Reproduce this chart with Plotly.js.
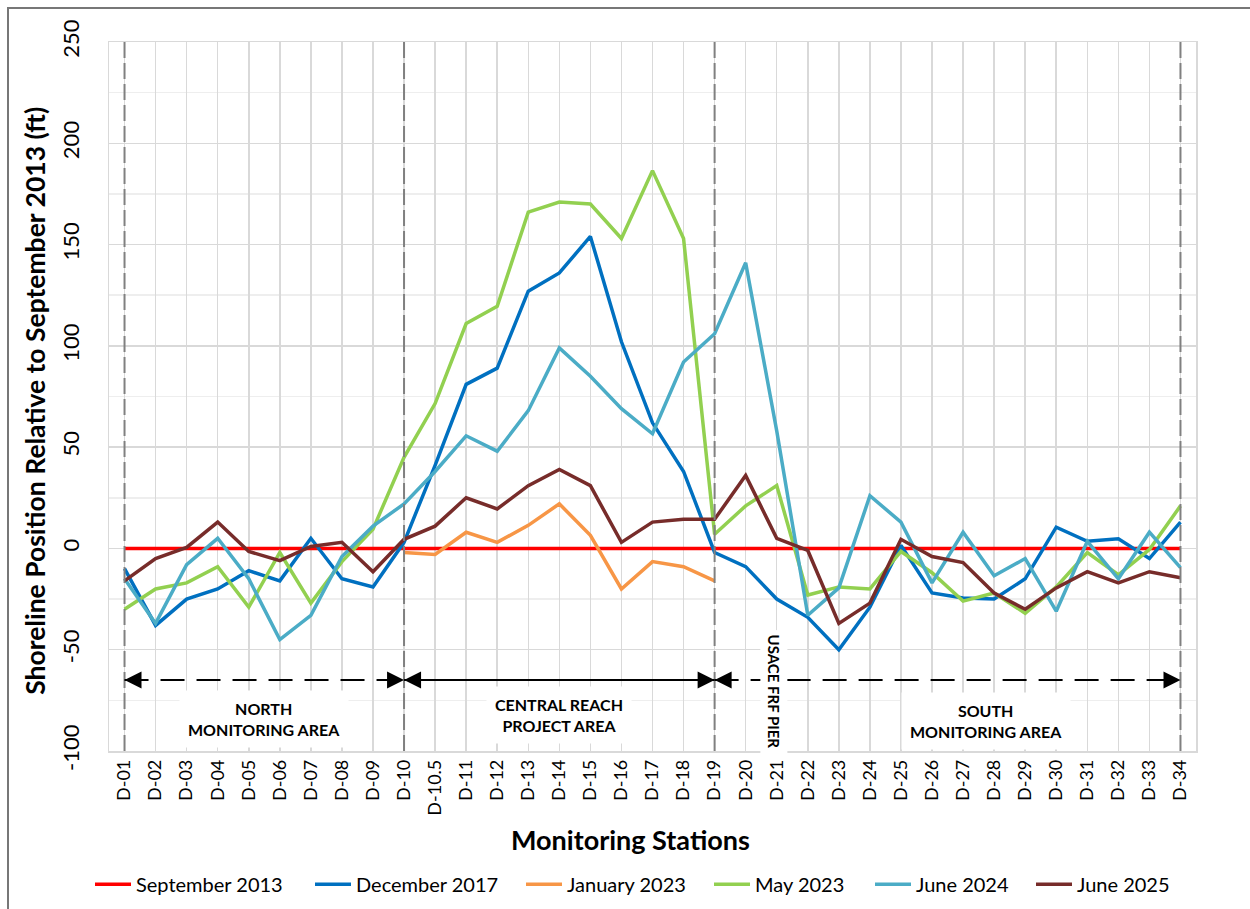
<!DOCTYPE html>
<html>
<head>
<meta charset="utf-8">
<script src="https://cdn.plot.ly/plotly-3.0.1.min.js"></script>
<style>
  body { margin: 0; background: #fff; }
  #chart { position: absolute; left: 0; top: 0; width: 1250px; height: 909px; }
  #frame { position: absolute; left: 7px; top: 7px; width: 1260px; height: 920px;
           border-left: 2px solid #777; border-top: 2px solid #777; pointer-events: none; }
</style>
</head>
<body>
<div id="chart"></div>
<div id="frame"></div>
<script>
const stations = ["D-01","D-02","D-03","D-04","D-05","D-06","D-07","D-08","D-09","D-10","D-10.5",
  "D-11","D-12","D-13","D-14","D-15","D-16","D-17","D-18","D-19","D-20","D-21","D-22","D-23",
  "D-24","D-25","D-26","D-27","D-28","D-29","D-30","D-31","D-32","D-33","D-34"];

const sep2013 = [0,0,0,0,0,0,0,0,0,0,0,0,0,0,0,0,0,0,0,0,0,0,0,0,0,0,0,0,0,0,0,0,0,0,0];

const dec2017 = [-10,-38,-25,-20,-11,-16,5,-15,-19,3,41,81,89,127,136,154,102,62,38,-2,
  -9,-25,-34,-50,-29,1.5,-22,-24.5,-25,-15,10.5,3.5,4.8,-5,13];

const janStations = ["D-10","D-10.5","D-11","D-12","D-13","D-14","D-15","D-16","D-17","D-18","D-19"];
const jan2023 = [-2,-3,8,3,11.4,22,6.5,-20,-6.5,-9,-16];

const may2023 = [-30,-20,-17,-9,-29,-2,-27,-6.5,9.5,45,71.5,111,119.5,166,171,170,153,186.5,153,7,
  21,31,-23,-19,-20,-1.5,-12,-26,-22,-32,-19,-2,-13,-0.5,21];

const jun2024 = [-15,-37,-8,5,-15,-45,-33,-4,11,22,38,55.6,48,68,99,85,69,56.6,92,106,
  141,58,-33,-19.5,26,13,-17,8,-13.5,-5,-31,3.5,-15,8,-9.5];

const jun2025 = [-16,-5,0.5,13,-1.5,-6,1,3,-11.5,4.5,11,25,19.5,31,39,31,3,13,14.4,14.4,
  36,5,-1,-37,-27,4.5,-4,-7,-22,-30,-19.5,-11.5,-17,-11.5,-14.5];

const seriesNames = ["September 2013","December 2017","January 2023","May 2023","June 2024","June 2025"];
const seriesColors = ["#FF0000","#0070C0","#F79646","#92D050","#4BACC6","#772C2A"];

const yTicks = [-100,-50,0,50,100,150,200,250];
const yTickLabels = ["-100","-50","0","50","100","150","200","250"];
const dividerStations = ["D-01","D-10","D-19","D-34"];

const xs = [stations, stations, janStations, stations, stations, stations];
const ys = [sep2013, dec2017, jan2023, may2023, jun2024, jun2025];

// pixel positions of legend entries (left edge of the line sample)
const legendLeftPx = [98, 318, 529, 717, 878, 1039];
const plotL = 109, plotW = 1087;
const legendKeys = ["legend","legend2","legend3","legend4","legend5","legend6"];

const traces = seriesNames.map((n, i) => ({
  type: "scatter", mode: "lines", name: n, x: xs[i], y: ys[i],
  line: { color: seriesColors[i], width: 3.5 }, legend: legendKeys[i]
}));

const arrowY = -65;
const shapes = [];
dividerStations.forEach(s => shapes.push({
  type: "line", xref: "x", yref: "y", x0: s, x1: s, y0: -100, y1: 250,
  line: { color: "#808080", width: 2, dash: "16px,5px" }, layer: "above"
}));
shapes.push({ type: "line", xref: "x", yref: "y", x0: "D-01", x1: "D-10", y0: arrowY, y1: arrowY,
  line: { color: "#000", width: 2, dash: "24px,12px" } });
shapes.push({ type: "line", xref: "x", yref: "y", x0: "D-10", x1: "D-19", y0: arrowY, y1: arrowY,
  line: { color: "#000", width: 2 } });
shapes.push({ type: "line", xref: "x", yref: "y", x0: "D-19", x1: "D-34", y0: arrowY, y1: arrowY,
  line: { color: "#000", width: 2, dash: "24px,12px" } });

function head(st, dir) {
  return { xref: "x", yref: "y", x: st, y: arrowY, ax: dir * 24, ay: 0, text: "",
    showarrow: true, arrowhead: 2, arrowsize: 1.7, arrowwidth: 2, arrowcolor: "#000" };
}
const boxFont = { family: "Lato, sans-serif", size: 16, color: "#000" };
const annotations = [
  head("D-01", 1), head("D-10", -1), head("D-10", 1), head("D-19", -1), head("D-19", 1), head("D-34", -1),
  { xref: "x", yref: "y", x: 4.5, y: -84, text: "<b>NORTH<br>MONITORING AREA</b>", showarrow: false,
    bgcolor: "#fff", borderpad: 8, font: boxFont },
  { xref: "x", yref: "y", x: 14, y: -82, text: "<b>CENTRAL REACH<br>PROJECT AREA</b>", showarrow: false,
    bgcolor: "#fff", borderpad: 8, font: boxFont },
  { xref: "x", yref: "y", x: 27.75, y: -85, text: "<b>SOUTH<br>MONITORING AREA</b>", showarrow: false,
    bgcolor: "#fff", borderpad: 8, font: boxFont },
  { xref: "x", yref: "y", x: 20.9, y: -70.5, text: "<b>USACE FRF PIER</b>", showarrow: false,
    textangle: 90, bgcolor: "#fff", borderpad: 4, font: { family: "Lato, sans-serif", size: 15, color: "#000" } },
  { xref: "paper", yref: "paper", x: -0.068, y: 0.494, xanchor: "center", yanchor: "middle",
    text: "<b>Shoreline Position Relative to September 2013 (ft)</b>", showarrow: false, textangle: -90,
    font: { family: "Lato, sans-serif", size: 26.5, color: "#000" } },
  { xref: "paper", yref: "paper", x: 0.480, y: -0.1255, xanchor: "center", yanchor: "middle",
    text: "<b>Monitoring Stations</b>", showarrow: false,
    font: { family: "Lato, sans-serif", size: 27, color: "#000" } }
];

const layout = {
  width: 1250, height: 909,
  margin: { l: 109, r: 54, t: 42, b: 158, autoexpand: false },
  paper_bgcolor: "#fff", plot_bgcolor: "#fff",
  font: { family: "Lato, sans-serif", color: "#000" },
  showlegend: true,
  xaxis: {
    type: "category", range: [-0.5, 34.5], tickangle: -90,
    tickfont: { size: 18, color: "#000" },
    showgrid: true, gridcolor: "#d9d9d9", gridwidth: 1.5,
    showline: true, mirror: true, linecolor: "#d9d9d9", linewidth: 1.5,
    ticks: "", automargin: false
  },
  yaxis: {
    range: [-100, 250], tickvals: yTicks, ticktext: yTickLabels, tickangle: -90,
    tickfont: { size: 22, color: "#000" }, ticklabelstandoff: 20,
    showgrid: true, gridcolor: "#d9d9d9", gridwidth: 1.5, zeroline: false,
    minor: { dtick: 25, showgrid: true, gridcolor: "#eeeeee", gridwidth: 1.5, tick0: 0 },
    showline: true, mirror: true, linecolor: "#d9d9d9", linewidth: 1.5,
    ticks: "", automargin: false
  },
  shapes: shapes,
  annotations: annotations
};
legendKeys.forEach((k, i) => {
  layout[k] = { orientation: "h", x: (legendLeftPx[i] - 8 - plotL) / plotW, xanchor: "left",
    y: -0.188, yanchor: "middle", font: { size: 20, color: "#000" }, itemwidth: 36,
    bgcolor: "rgba(0,0,0,0)" };
});

Plotly.newPlot("chart", traces, layout, { displayModeBar: false, staticPlot: true });
</script>
</body>
</html>
